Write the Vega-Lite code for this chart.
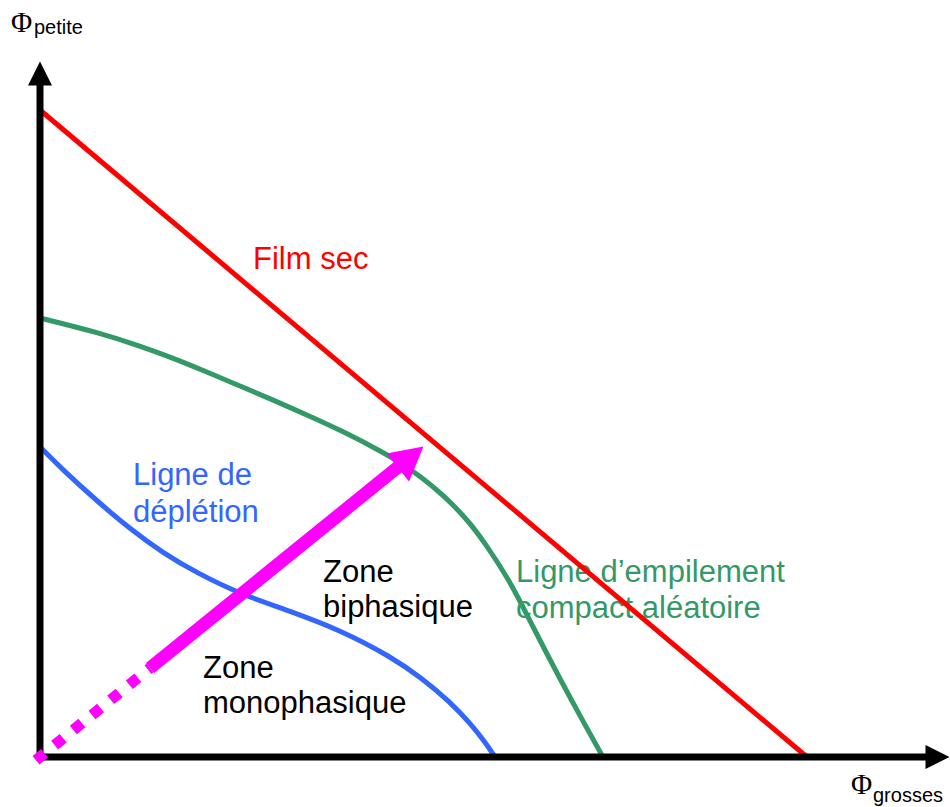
{
  "$schema": "https://vega.github.io/schema/vega-lite/v6.json",
  "width": 950,
  "height": 807,
  "autosize": {"type": "fit", "contains": "padding"},
  "padding": 0,
  "background": "white",
  "config": {"view": {"stroke": null}},
  "datasets": {
    "curves": [
      {"c": "depletion", "x": 0, "y": 3.10},
      {"c": "depletion", "x": 0.23, "y": 2.87},
      {"c": "depletion", "x": 0.57, "y": 2.56},
      {"c": "depletion", "x": 0.90, "y": 2.28},
      {"c": "depletion", "x": 1.23, "y": 2.04},
      {"c": "depletion", "x": 1.57, "y": 1.84},
      {"c": "depletion", "x": 2.0, "y": 1.63},
      {"c": "depletion", "x": 2.5, "y": 1.46},
      {"c": "depletion", "x": 3.0, "y": 1.27},
      {"c": "depletion", "x": 3.5, "y": 1.01},
      {"c": "depletion", "x": 3.83, "y": 0.78},
      {"c": "depletion", "x": 4.10, "y": 0.55},
      {"c": "depletion", "x": 4.30, "y": 0.34},
      {"c": "depletion", "x": 4.45, "y": 0.15},
      {"c": "depletion", "x": 4.55, "y": 0},
      {"c": "empilement", "x": 0, "y": 4.39},
      {"c": "empilement", "x": 0.6, "y": 4.24},
      {"c": "empilement", "x": 1.0, "y": 4.11},
      {"c": "empilement", "x": 1.33, "y": 3.99},
      {"c": "empilement", "x": 1.67, "y": 3.85},
      {"c": "empilement", "x": 2.0, "y": 3.71},
      {"c": "empilement", "x": 2.33, "y": 3.57},
      {"c": "empilement", "x": 2.67, "y": 3.42},
      {"c": "empilement", "x": 3.0, "y": 3.27},
      {"c": "empilement", "x": 3.33, "y": 3.10},
      {"c": "empilement", "x": 3.55, "y": 2.98},
      {"c": "empilement", "x": 3.83, "y": 2.79},
      {"c": "empilement", "x": 4.03, "y": 2.62},
      {"c": "empilement", "x": 4.27, "y": 2.38},
      {"c": "empilement", "x": 4.45, "y": 2.14},
      {"c": "empilement", "x": 4.70, "y": 1.76},
      {"c": "empilement", "x": 4.93, "y": 1.30},
      {"c": "empilement", "x": 5.20, "y": 0.78},
      {"c": "empilement", "x": 5.45, "y": 0.32},
      {"c": "empilement", "x": 5.63, "y": 0},
      {"c": "film", "x": 0, "y": 6.47},
      {"c": "film", "x": 7.67, "y": 0}
    ],
    "labels": [
      {"c": "film", "x": 2.13, "y": 4.88, "t": "Film sec"},
      {"c": "depletion", "x": 0.93, "y": 2.72, "t": "Ligne de"},
      {"c": "depletion", "x": 0.93, "y": 2.35, "t": "déplétion"},
      {"c": "zone", "x": 2.83, "y": 1.75, "t": "Zone"},
      {"c": "zone", "x": 2.83, "y": 1.40, "t": "biphasique"},
      {"c": "zone", "x": 1.63, "y": 0.79, "t": "Zone"},
      {"c": "zone", "x": 1.63, "y": 0.44, "t": "monophasique"},
      {"c": "empilement", "x": 4.76, "y": 1.75, "t": "Ligne d’empilement"},
      {"c": "empilement", "x": 4.76, "y": 1.39, "t": "compact aléatoire"}
    ]
  },
  "encoding": {
    "x": {"field": "x", "type": "quantitative", "scale": {"domain": [-0.4, 9.1], "nice": false, "zero": false}, "axis": null},
    "y": {"field": "y", "type": "quantitative", "scale": {"domain": [-0.5, 7.57], "nice": false, "zero": false}, "axis": null}
  },
  "layer": [
    {
      "data": {"name": "labels"},
      "mark": {"type": "text", "align": "left", "baseline": "alphabetic", "font": "Liberation Sans", "fontSize": 31},
      "encoding": {
        "text": {"field": "t"},
        "color": {"field": "c", "type": "nominal", "legend": null,
          "scale": {"domain": ["depletion", "empilement", "film", "zone"], "range": ["#3366FF", "#339966", "#FF0000", "#000000"]}}
      }
    },
    {
      "data": {"name": "curves"},
      "mark": {"type": "line", "interpolate": "basis", "strokeWidth": 5, "strokeCap": "butt"},
      "encoding": {
        "color": {"field": "c", "type": "nominal", "legend": null}
      }
    },
    {
      "data": {"values": [{"x": 0, "y": 0, "x2": 0, "y2": 6.72}, {"x": 0, "y": 0, "x2": 8.87, "y2": 0}]},
      "mark": {"type": "rule", "color": "#000000", "strokeWidth": 7, "strokeCap": "square"},
      "encoding": {
        "x2": {"field": "x2"},
        "y2": {"field": "y2"}
      }
    },
    {
      "data": {"values": [{"x": 0, "y": 6.835}]},
      "mark": {"type": "point", "shape": "M0,-1L1,1L-1,1Z", "size": 576, "filled": true, "opacity": 1, "color": "#000000"},
      "encoding": {}
    },
    {
      "data": {"values": [{"x": 8.975, "y": 0}]},
      "mark": {"type": "point", "shape": "M1,0L-1,-1L-1,1Z", "size": 576, "filled": true, "opacity": 1, "color": "#000000"},
      "encoding": {}
    },
    {
      "data": {"values": [{"x": -0.04, "y": -0.032}, {"x": 1.10, "y": 0.89}]},
      "mark": {"type": "line", "color": "#FF00FF", "strokeWidth": 11, "strokeCap": "butt", "strokeDash": [11, 13]},
      "encoding": {}
    },
    {
      "data": {"values": [{"x": 1.10, "y": 0.89}, {"x": 3.58, "y": 2.90}]},
      "mark": {"type": "line", "color": "#FF00FF", "strokeWidth": 13, "strokeCap": "butt"},
      "encoding": {}
    },
    {
      "data": {"values": [{"x": 3.706, "y": 3.0}]},
      "mark": {"type": "point", "shape": "M0,-0.92L1,0.92L-1,0.92Z", "size": 1296, "filled": true, "opacity": 1, "color": "#FF00FF", "angle": 51},
      "encoding": {}
    },
    {
      "data": {"values": [{"x": -0.29, "y": 7.25, "t": "Φ"}, {"x": 8.11, "y": -0.37, "t": "Φ"}]},
      "mark": {"type": "text", "align": "left", "baseline": "alphabetic", "font": "Liberation Serif", "fontSize": 29, "color": "#000000"},
      "encoding": {"text": {"field": "t"}}
    },
    {
      "data": {"values": [{"x": -0.06, "y": 7.23, "t": "petite"}, {"x": 8.33, "y": -0.45, "t": "grosses"}]},
      "mark": {"type": "text", "align": "left", "baseline": "alphabetic", "font": "Liberation Sans", "fontSize": 20, "color": "#000000"},
      "encoding": {"text": {"field": "t"}}
    }
  ]
}
